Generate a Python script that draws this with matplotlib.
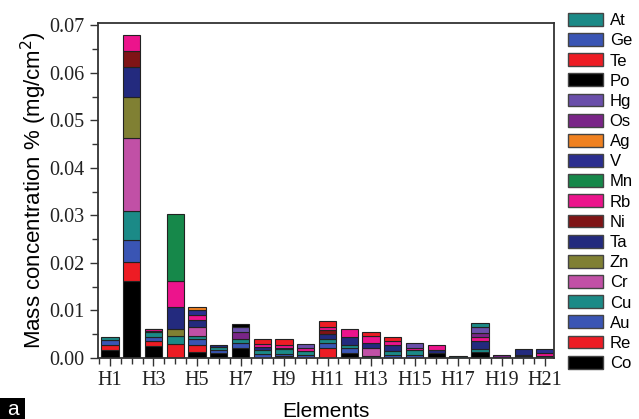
import matplotlib
matplotlib.use("Agg")
import matplotlib.pyplot as plt
from matplotlib.patches import Patch, Rectangle
from matplotlib.ticker import MultipleLocator

samples = ["H%d" % i for i in range(1, 22)]

# mass concentration per element for each sample (mg/cm2), bottom of stack first
co = [.0017, .0163, .0025, 0, .0012, .0010, .0021, 0, .0004, 0, 0, .0011, 0, 0, 0, .0010, 0, .0012, 0, 0, 0]
re = [.0011, .0040, .0010, .0030, .0016, 0, 0, 0, 0, 0, .0021, 0, 0, 0, 0, 0, 0, 0, 0, 0, 0]
au = [.0010, .0046, .0009, 0, .0011, .0006, .0010, .0008, .0005, .0007, .0011, .0010, 0, .0007, .0007, 0, 0, 0, 0, .0004, 0]
cu = [.0007, .0060, .0011, .0017, .0007, .0007, .0010, .0009, .0009, .0008, .0008, .0006, .0004, .0007, .0009, 0, .0004, .0007, 0, .0003, .0004]
cr = [0, .0155, 0, 0, .0020, 0, 0, 0, 0, 0, 0, 0, .0016, 0, 0, 0, 0, 0, 0, 0, 0]
zn = [0, .0086, 0, .0014, 0, 0, 0, 0, 0, 0, 0, 0, 0, 0, 0, 0, 0, 0, 0, 0, 0]
ta = [0, .0063, .0002, .0047, .0014, .0005, 0, .0006, .0004, 0, .0011, .0018, .0012, .0014, 0, .0006, 0, .0017, .0002, .0012, 0]
ni = [0, .0034, 0, 0, 0, 0, 0, 0, 0, 0, .0007, 0, 0, 0, 0, 0, 0, 0, 0, 0, 0]
rb = [0, .0033, .0003, .0053, .0010, 0, 0, .0007, .0006, .0007, .0008, .0015, .0015, .0007, .0005, .0012, 0, .0008, 0, 0, .0006]
mn = [0, 0, 0, .0142, 0, 0, 0, 0, 0, 0, 0, 0, 0, 0, 0, 0, 0, 0, 0, 0, 0]
v = [0, 0, 0, 0, .0011, 0, 0, 0, 0, 0, 0, 0, 0, 0, 0, 0, 0, 0, 0, 0, .0009]
ag = [0, 0, 0, 0, .0007, 0, 0, 0, 0, 0, 0, 0, 0, 0, 0, 0, 0, 0, 0, 0, 0]
os_ = [0, 0, .0002, 0, 0, 0, .0013, 0, 0, 0, 0, 0, 0, 0, 0, 0, 0, .0009, .0005, 0, 0]
hg = [0, 0, 0, 0, 0, 0, .0011, 0, 0, .0007, 0, 0, 0, 0, .0010, 0, 0, .0012, 0, 0, 0]
po = [0, 0, 0, 0, 0, 0, .0006, 0, 0, 0, 0, 0, 0, 0, 0, 0, 0, 0, 0, 0, 0]
te = [0, 0, 0, 0, 0, 0, 0, .0011, .0012, 0, .0011, 0, .0007, .0010, 0, 0, 0, 0, 0, 0, 0]
ge = [0] * 21
at = [0, 0, 0, 0, 0, 0, 0, 0, 0, 0, 0, 0, 0, 0, 0, 0, 0, .0009, 0, 0, 0]

elements = ["Co", "Re", "Au", "Cu", "Cr", "Zn", "Ta", "Ni", "Rb",
            "Mn", "V", "Ag", "Os", "Hg", "Po", "Te", "Ge", "At"]
series = [co, re, au, cu, cr, zn, ta, ni, rb, mn, v, ag, os_, hg, po, te, ge, at]
colors = ["#000000", "#ED1C24", "#3A55B4", "#1B8A87", "#C150A6", "#808033",
          "#232A7E", "#7F1416", "#EC148C", "#16884A", "#2B2E8F", "#F08120",
          "#7A2588", "#6A4FAA", "#000000", "#ED1C24", "#3A55B4", "#1B8A87"]

fig = plt.figure(figsize=(6.39, 4.19), dpi=100)
ax = fig.add_axes([98 / 639, 1 - 358 / 419, 456 / 639, 335 / 419])

x = list(range(1, 22))
bottom = [0.0] * 21
for vals, col in zip(series, colors):
    xs = [xi for xi, val in zip(x, vals) if val > 0]
    hs = [val for val in vals if val > 0]
    bs = [b for b, val in zip(bottom, vals) if val > 0]
    ax.bar(xs, hs, bottom=bs, width=0.8, color=col, edgecolor="#222222", linewidth=0.8)
    bottom = [b + val for b, val in zip(bottom, vals)]

ax.set_xlim(0.45, 21.41)
ax.set_ylim(0, 0.0705)
ax.set_xticks(x[::2])
ax.set_xticklabels(samples[::2])
ax.xaxis.set_minor_locator(MultipleLocator(0.5))
ax.yaxis.set_major_locator(MultipleLocator(0.01))
ax.yaxis.set_minor_locator(MultipleLocator(0.005))
ax.yaxis.set_major_formatter(matplotlib.ticker.FormatStrFormatter("%.2f"))
ax.tick_params(which="major", direction="out", length=6, width=1, color="#333333")
ax.tick_params(which="minor", direction="out", length=4, width=1, color="#333333")
for lab in ax.get_xticklabels() + ax.get_yticklabels():
    lab.set_fontfamily("Liberation Serif")
    lab.set_fontsize(14.5)
    lab.set_color("#222222")
for sp in ax.spines.values():
    sp.set_linewidth(1.3)
    sp.set_color("#333333")

ax.set_ylabel("Mass concentration % (mg/cm$^2$)", fontfamily="Liberation Sans", fontsize=16)
ax.yaxis.set_label_coords(-0.108, 0.5)
ax.set_xlabel("Elements", fontfamily="Liberation Sans", fontsize=15)
ax.xaxis.set_label_coords(0.5, -0.13)

handles = [Patch(facecolor=c, edgecolor="#444444", linewidth=1) for c in colors]
fig.legend(handles[::-1], elements[::-1], loc="upper left",
           bbox_to_anchor=(568 / 639, 1 - 13 / 419), frameon=False,
           prop={"family": "Liberation Sans", "size": 12},
           handlelength=2.1, handleheight=0.8, handletextpad=0.4,
           labelspacing=0.3, borderaxespad=0, borderpad=0)

fig.patches.append(Rectangle((0, 0), 25 / 639, 21 / 419, transform=fig.transFigure,
                             facecolor="black", edgecolor="none"))
fig.text(12.5 / 639, 10 / 419, "a", color="white", ha="center", va="center",
         fontfamily="Liberation Sans", fontsize=15)

fig.savefig("out.png", dpi=100)
